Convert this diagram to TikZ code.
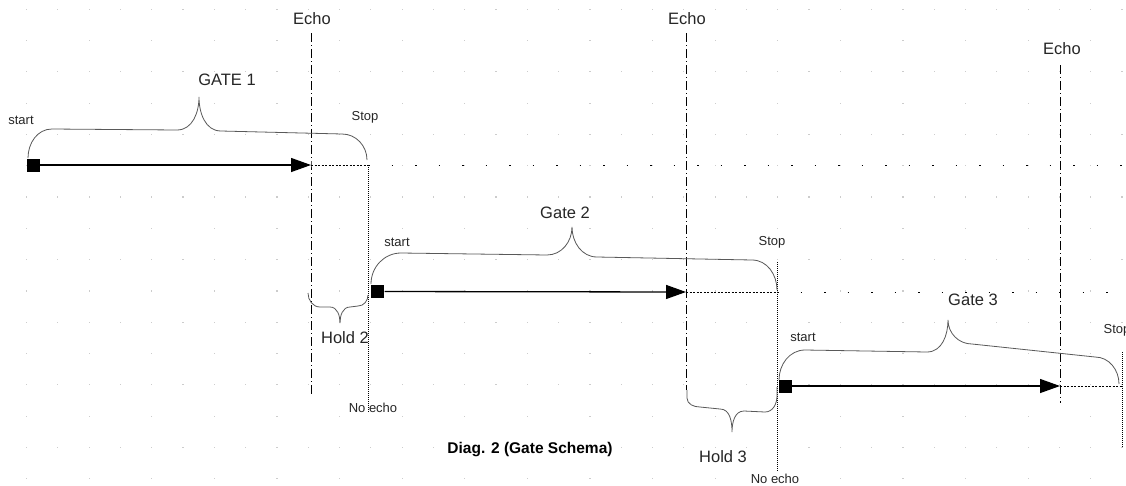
\documentclass[tikz,border=0pt]{standalone}
\usepackage{fontspec}
\setmainfont{Liberation Sans}
\usetikzlibrary{arrows.meta,positioning,calc}

\begin{document}
\begin{tikzpicture}[
  x=1pt, y=-1pt,
  every node/.style={inner sep=0pt, text=black!85},
  lbl/.style={font=\fontsize{16.5}{18}\selectfont},
  sm/.style={font=\fontsize{13}{15}\selectfont},
  sq/.style={fill=black, minimum size=13pt, inner sep=0pt},
  echoline/.style={line width=0.9pt, dash pattern=on 9pt off 3pt on 1pt off 3pt},
  stopline/.style={line width=0.9pt, dash pattern=on 1pt off 1pt},
  gap/.style={line width=0.9pt, dash pattern=on 2pt off 1.5pt},
  trail/.style={line width=0.9pt, dash pattern=on 1.5pt off 22pt},
  brc/.style={line width=0.8pt, draw=black!65},
  >={Triangle[length=20pt,width=14pt]}, line width=1.3pt
]
\fill[white] (0,0) rectangle (1126,485);
\clip (0,0) rectangle (1126,485);
\useasboundingbox (0,0) rectangle (1126,485);

% grid dots
\foreach \j in {0,2,...,14}
  \foreach \i in {0,...,35}
    \fill[gray!40] (26.5+31.3*\i-0.6, 9.2+31.3*\j-0.6) rectangle +(1.2,1.2);
\foreach \j in {1,3,...,15}
  \foreach \i in {0,2,...,34}
    \fill[gray!40] (26.5+31.3*\i-0.6, 9.2+31.3*\j-0.6) rectangle +(1.2,1.2);

% gate 1
\node[sq] (s1) at (33,165) {};
\coordinate (e1) at (311,165);
\coordinate (p1) at (368,165);
\node[lbl] (echo1) at (312,19) {Echo};
\node[lbl] (gate1) at (227,80) {GATE 1};
\node[sm] (start1) at (21,120) {start};
\node[sm] (stop1) at (365,117) {Stop};
\node[sm] (noecho1) at (373,408) {No echo};

% gate 2
\node[sq] (s2) at (377.5,291.5) {};
\coordinate (e2) at (686,292);
\coordinate (p2) at (777,292);
\node[lbl] (echo2) at (687,19) {Echo};
\node[lbl] (gate2) at (565,213) {Gate 2};
\node[sm] (start2) at (397,242) {start};
\node[sm] (stop2) at (772,242) {Stop};
\node[sm] (noecho2) at (775,479) {No echo};
\node[lbl] (hold2) at (345,338) {Hold 2};

% gate 3
\node[sq] (s3) at (785,386) {};
\coordinate (e3) at (1060,386);
\coordinate (p3) at (1122,386);
\node[lbl] (echo3) at (1062,49) {Echo};
\node[lbl] (gate3) at (973,300) {Gate 3};
\node[sm] (start3) at (803,337) {start};
\node[sm] (stop3) at (1117,330) {Stop};
\node[lbl] (hold3) at (723,457) {Hold 3};

\node[font=\bfseries\fontsize{15.5}{17}\selectfont, text=black] (title) at (530,450) {Diag. 2 (Gate Schema)};

% echo and stop lines
\draw[echoline] (311,33) -- (e1) -- (311,395);
\draw[echoline] (686,33) -- (e2) -- (686,390);
\draw[echoline] (1060,65) -- (e3) -- (1060,403);
\draw[stopline] (p1) -- (368,413);
\draw[stopline] (777,262) -- (p2) -- (777,472);
\draw[stopline] (1122,352) -- (p3) -- (1122,448);

% flows
\draw[->] (s1) -- (e1);
\draw[->] (s2) -- (e2);
\draw[->] (s3) -- (e3);
\draw[gap] (e1) -- (p1);
\draw[gap] (e2) -- (p2);
\draw[gap] (e3) -- (p3);
\draw[trail] (p1) -- (1126,165);
\draw[trail] (p2) -- (1126,292);

% braces
\draw[brc] (28,158) to[out=90,in=180] (52,129) -- (177,130) to[out=0,in=-90] (199,97)
  to[out=-90,in=180] (221,131) -- (342,134) to[out=0,in=90] (367,160);
\draw[brc] (371,284) to[out=90,in=180] (401,253) -- (547,255) to[out=0,in=-90] (572,227)
  to[out=-90,in=180] (597,257) -- (752,260) to[out=0,in=90] (777,290);
\draw[brc] (779,380) to[out=90,in=180] (805,350) -- (927,352) to[out=0,in=-90] (948,320)
  to[out=-90,in=180] (972,344) -- (1095,357) to[out=0,in=90] (1119,384);
\draw[brc] (308,293) to[out=-90,in=180] (320,307) -- (330,307) to[out=0,in=90] (340,323)
  to[out=90,in=180] (350,307) -- (358,306) to[out=0,in=-90] (368,295);
\draw[brc] (687,390) -- (687,398) to[out=-90,in=180] (700,407) -- (720,409) to[out=0,in=90] (732,432)
  to[out=90,in=180] (744,411) -- (765,412) to[out=0,in=-90] (777,396) -- (777,387);
\end{tikzpicture}
\end{document}
